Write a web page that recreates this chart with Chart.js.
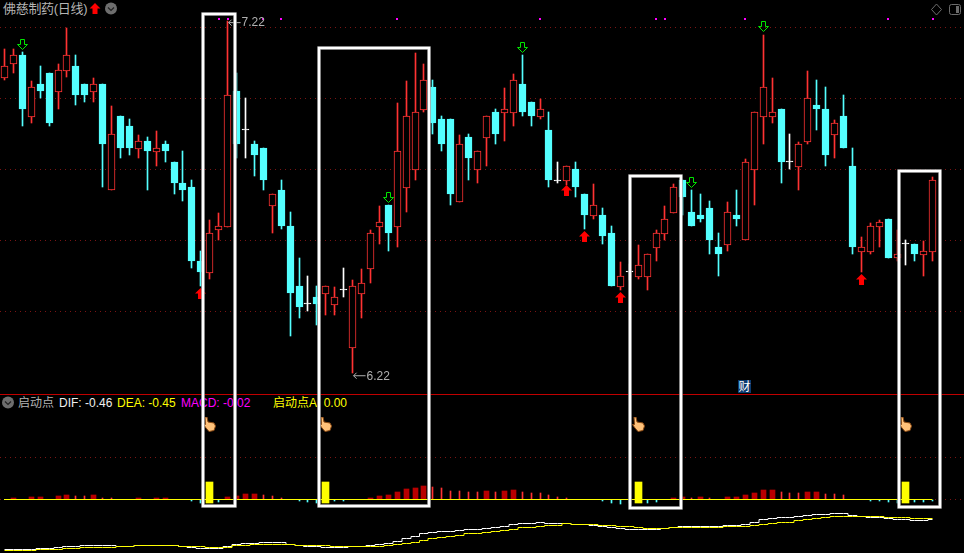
<!DOCTYPE html>
<html>
<head>
<meta charset="utf-8">
<title>佛慈制药(日线)</title>
<script src="https://cdn.jsdelivr.net/npm/chart.js@4/dist/chart.umd.js"></script>
<style>
html, body { margin: 0; padding: 0; background: #000; overflow: hidden; }
#wrap { position: relative; width: 964px; height: 553px; background: #000; }
#chart { position: absolute; left: 0; top: 0; z-index: 1; }
.lbl { position: absolute; white-space: nowrap; font: 12px "Liberation Sans", "Noto Sans CJK SC", sans-serif; line-height: 14px; }
</style>
</head>
<body>
<div id="wrap">
  <span class="lbl" style="left:3px;top:2px;color:#b4b4b4;font-size:13px;letter-spacing:-0.3px;">佛慈制药(日线)</span>
  <span class="lbl" style="left:18px;top:396px;color:#b4b4b4;">启动点</span>
  <span class="lbl" style="left:59px;top:396px;color:#f0f0f0;">DIF: -0.46</span>
  <span class="lbl" style="left:117px;top:396px;color:#ffff00;">DEA: -0.45</span>
  <span class="lbl" style="left:181px;top:396px;color:#ff00ff;">MACD: -0.02</span>
  <span class="lbl" style="left:273px;top:396px;color:#ffff00;">启动点A: 0.00</span>
  <span class="lbl" style="left:738px;top:380px;width:13px;height:13px;background:#0b3a6e;color:#fff;text-align:center;">财</span>
  <canvas id="chart" width="964" height="553"></canvas>
</div>
<script>
// daily candles
var opens = [7.059,7.099,7.123,6.949,7.041,7.073,7.020,7.079,7.093,7.041,7.020,7.041,6.740,6.951,6.922,6.858,6.880,6.849,6.871,6.820,6.760,6.749,6.539,6.506,6.628,
  6.636,7.022,6.910,6.871,6.860,6.696,6.740,6.638,6.468,6.416,6.437,6.446,6.414,6.456,6.293,6.446,6.517,6.636,6.698,6.636,6.747,6.798,6.968,7.033,6.942,
  6.942,6.707,6.891,6.798,6.889,6.962,6.960,6.960,7.041,6.990,6.949,6.911,6.766,6.767,6.800,6.729,6.667,6.669,6.618,6.466,6.507,6.494,6.494,6.577,6.616,
  6.676,6.769,6.678,6.669,6.689,6.579,6.585,6.669,6.598,6.798,6.949,6.949,6.970,6.819,6.807,6.878,6.982,6.970,6.897,6.951,6.809,6.565,6.565,6.636,6.658,
  6.546,6.587,6.587,6.557,6.565];
var closes = [7.093,7.123,6.971,7.032,7.022,6.932,7.080,7.123,7.011,7.011,7.041,6.872,6.899,6.861,6.861,6.879,6.852,6.859,6.852,6.761,6.740,6.539,6.508,6.617,6.637,
  7.009,6.872,6.910,6.841,6.769,6.728,6.638,6.448,6.408,6.416,6.417,6.467,6.436,6.456,6.467,6.475,6.617,6.649,6.618,6.850,6.950,6.961,7.052,6.931,6.872,
  6.729,6.870,6.831,6.850,6.950,6.899,6.970,7.052,6.962,6.951,6.970,6.769,6.766,6.808,6.749,6.669,6.697,6.610,6.468,6.495,6.507,6.527,6.558,6.617,6.657,
  6.748,6.721,6.638,6.658,6.598,6.559,6.677,6.658,6.819,6.961,7.032,6.961,6.820,6.819,6.870,7.001,6.970,6.840,6.930,6.860,6.579,6.578,6.637,6.649,6.547,
  6.558,6.587,6.559,6.566,6.768];
var highs = [7.141,7.140,7.131,7.050,7.093,7.073,7.098,7.200,7.123,7.041,7.058,7.041,6.978,6.951,6.942,6.896,6.890,6.908,6.880,6.820,6.851,6.769,6.567,6.654,6.675,
  7.220,7.073,7.002,6.880,6.860,6.728,6.769,6.678,6.547,6.496,6.468,6.467,6.465,6.519,6.485,6.516,6.626,6.695,6.698,6.987,7.050,7.129,7.097,7.053,6.951,
  6.942,6.897,6.899,6.850,6.950,6.970,7.030,7.070,7.124,6.990,6.999,6.962,6.820,6.808,6.820,6.729,6.757,6.689,6.638,6.536,6.530,6.584,6.558,6.626,6.695,
  6.757,6.769,6.740,6.729,6.709,6.618,6.706,6.740,6.828,6.961,7.180,7.058,6.970,6.899,6.877,7.078,7.053,7.033,6.939,7.010,6.860,6.607,6.647,6.655,6.658,
  6.627,6.598,6.587,6.596,6.777];
var lows = [7.053,7.074,6.923,6.932,7.003,6.923,6.971,7.062,6.983,6.991,6.991,6.750,6.740,6.832,6.841,6.832,6.740,6.809,6.820,6.730,6.709,6.520,6.468,6.489,6.599,
  6.636,6.832,6.832,6.781,6.740,6.619,6.630,6.326,6.377,6.397,6.357,6.385,6.385,6.437,6.220,6.377,6.476,6.587,6.567,6.579,6.678,6.769,6.963,6.899,6.851,
  6.698,6.707,6.769,6.760,6.809,6.871,6.880,6.922,6.951,6.922,6.942,6.749,6.760,6.755,6.720,6.630,6.658,6.587,6.468,6.456,6.485,6.488,6.456,6.539,6.599,
  6.676,6.669,6.638,6.650,6.559,6.496,6.567,6.638,6.598,6.698,6.871,6.932,6.760,6.800,6.740,6.871,6.911,6.809,6.831,6.860,6.559,6.508,6.559,6.579,6.547,
  6.539,6.527,6.539,6.496,6.539];

// MACD panel
var macdHist = [0,.03,0,.07,.07,0,.10,.13,.10,.10,.13,.04,.04,0,0,.04,0,.03,.03,0,0,-.03,-.10,0,-.07,
  .07,.10,.16,.16,.13,.10,.04,0,-.03,-.07,-.10,0,-.04,-.03,0,0,.04,.10,.13,.22,.31,.34,.40,.37,.34,
  .25,.25,.22,.22,.25,.22,.25,.28,.22,.19,.19,.13,.07,.04,0,0,0,-.03,-.10,-.13,-.12,0,-.10,-.07,0,
  .04,.07,.04,.07,.04,0,.07,.07,.13,.19,.28,.28,.22,.19,.19,.22,.22,.16,.16,.13,0,0,-.03,-.03,-.07,
  -.10,0,-.07,-.07,-.02];
var macdWide = [1,3,4,6,7,10,15,17,18,25,26,27,28,41,42,43,44,45,46,47,54,56,57,75,76,78,81,82,83,84,85,86,90,91];
var dif = [-.756,-.756,-.756,-.756,-.746,-.746,-.736,-.726,-.726,-.716,-.716,-.716,-.716,-.726,-.726,-.716,-.716,-.716,-.716,-.716,-.726,-.736,-.746,-.746,-.746,
  -.726,-.706,-.696,-.696,-.686,-.686,-.686,-.706,-.716,-.726,-.726,-.736,-.736,-.736,-.726,-.726,-.716,-.706,-.696,-.676,-.646,-.626,-.596,-.586,-.576,
  -.576,-.566,-.556,-.556,-.546,-.536,-.526,-.506,-.496,-.496,-.486,-.496,-.496,-.496,-.506,-.506,-.516,-.526,-.536,-.546,-.556,-.556,-.556,-.556,-.546,
  -.536,-.526,-.526,-.526,-.526,-.526,-.516,-.516,-.506,-.486,-.456,-.446,-.436,-.436,-.426,-.416,-.406,-.406,-.396,-.396,-.416,-.426,-.436,-.436,-.446,
  -.456,-.456,-.466,-.466,-.456];
var dea = [-.766,-.766,-.766,-.766,-.756,-.756,-.756,-.746,-.746,-.736,-.736,-.736,-.736,-.726,-.726,-.716,-.716,-.716,-.716,-.716,-.726,-.726,-.726,-.736,-.736,
  -.736,-.716,-.716,-.706,-.706,-.706,-.706,-.706,-.716,-.716,-.716,-.716,-.726,-.726,-.726,-.726,-.726,-.726,-.716,-.706,-.696,-.686,-.666,-.646,-.636,
  -.626,-.616,-.596,-.596,-.586,-.576,-.566,-.556,-.536,-.536,-.526,-.516,-.516,-.496,-.506,-.506,-.506,-.516,-.516,-.526,-.526,-.536,-.546,-.546,-.546,
  -.536,-.536,-.536,-.536,-.536,-.536,-.526,-.526,-.526,-.516,-.506,-.496,-.486,-.486,-.466,-.456,-.446,-.436,-.426,-.426,-.426,-.426,-.426,-.426,-.436,
  -.436,-.436,-.446,-.446,-.446];

// signal positions, as candle index
var startPoints = [23,36,71,101];
var startBarRange = [-.11,.52];
var handLevel = 2.25;
var downArrows = {idx:[2,43,58,77,85], price:[7.153,6.718,7.145,6.762,7.204]};
var upArrows = {idx:[22,63,65,69,96], price:[6.446,6.739,6.608,6.435,6.486]};
var topDots = [24,25,29,31,44,60,73,74,83,99,104];
var topDotPrice = 7.226;

// axis gridlines
var priceTicks = [7.202,7.0,6.799,6.597,6.395];
var histTicks = [1.254,0];

// white highlight frames: candle index span and price span
var frameFrom = [22.22,35.27,70.1,100.25];
var frameTo = [25.84,47.55,75.77,104.85];
var frameTop = [7.240,7.144,6.780,6.794];
var frameBottom = [5.843,5.843,5.837,5.840];

var RED = '#ff3232', CYAN = '#54ffff', WHITE = '#ffffff';
var count = opens.length;
var labels = [];
for (var n = 0; n < count + 3; n++) labels.push(n < count ? String(n + 1) : '');

function sparse(idx, vals) {
  var out = [];
  for (var i = 0; i < count; i++) out.push(null);
  idx.forEach(function (k, j) { out[k] = Array.isArray(vals) && vals.length === idx.length ? vals[j] : vals; });
  return out;
}
function candleColor(i) {
  return closes[i] > opens[i] ? RED : closes[i] < opens[i] ? CYAN : WHITE;
}
var colors = opens.map(function (v, i) { return candleColor(i); });
var bodyFill = colors.map(function (c) { return c === RED ? '#000000' : c; });
var bodies = opens.map(function (o, i) { return [Math.min(o, closes[i]), Math.max(o, closes[i])]; });
var wicks = lows.map(function (l, i) { return [l, highs[i]]; });

var wideBars = macdHist.map(function (v, i) { return macdWide.indexOf(i) >= 0 ? v : null; });
var thinBars = macdHist.map(function (v, i) { return v > 0 && macdWide.indexOf(i) < 0 ? v : null; });
var negBars = macdHist.map(function (v) { return v < 0 ? v : null; });

function sprite(w, h, draw) {
  var c = document.createElement('canvas');
  c.width = w; c.height = h;
  draw(c.getContext('2d'));
  return c;
}
function upPath(g) {
  g.beginPath();
  g.moveTo(5.5, 0); g.lineTo(11, 5.5); g.lineTo(8, 5.5); g.lineTo(8, 11);
  g.lineTo(3, 11); g.lineTo(3, 5.5); g.lineTo(0, 5.5); g.closePath();
}
var upSprite = sprite(11, 11, function (g) { upPath(g); g.fillStyle = '#ff0000'; g.fill(); });
var downSprite = sprite(11, 11, function (g) {
  g.beginPath();
  g.moveTo(3.5, .5); g.lineTo(7.5, .5); g.lineTo(7.5, 5.5); g.lineTo(10.5, 5.5);
  g.lineTo(5.5, 10.5); g.lineTo(.5, 5.5); g.lineTo(3.5, 5.5); g.closePath();
  g.strokeStyle = '#00e600'; g.lineWidth = 1; g.stroke();
});
var dotSprite = sprite(2, 2, function (g) { g.fillStyle = '#ff00ff'; g.fillRect(0, 0, 2, 2); });
var handSprite = sprite(13, 15, function (g) {
  g.beginPath();
  g.moveTo(2, 0); g.lineTo(4, 0); g.lineTo(5, 5); g.lineTo(11, 6); g.lineTo(12.5, 9);
  g.lineTo(11, 13.5); g.lineTo(6, 14.5); g.lineTo(3, 11); g.lineTo(.5, 7.5); g.lineTo(2.5, 7.5);
  g.closePath();
  g.fillStyle = '#ffc27a'; g.fill();
  g.strokeStyle = '#8a4a14'; g.lineWidth = 1; g.stroke();
});

// keep the bars and lines on whole pixels like the terminal does
var snapPlugin = {
  id: 'snap',
  afterDatasetsUpdate: function (chart) {
    chart.data.datasets.forEach(function (ds, d) {
      chart.getDatasetMeta(d).data.forEach(function (el) {
        if (ds.snapWhole) { el.x = Math.round(el.x); el.y = Math.round(el.y); return; }
        el.x = Math.floor(el.x) + .5;
        if (ds.type === 'line') { el.y = Math.floor(el.y) + .5; return; }
        el.y = Math.round(el.y);
        el.base = Math.round(el.base);
        if (el.y === el.base) el.base = el.y + 1;
      });
    });
  }
};

function button(ctx, x, y) {
  ctx.fillStyle = '#6e6e6e';
  ctx.beginPath(); ctx.arc(x, y, 6, 0, Math.PI * 2); ctx.fill();
  ctx.strokeStyle = '#222'; ctx.lineWidth = 1.2;
  ctx.beginPath(); ctx.moveTo(x - 3, y - 1); ctx.lineTo(x, y + 2); ctx.lineTo(x + 3, y - 1); ctx.stroke();
}
function extremeLabel(ctx, xs, yp, i, price, dy) {
  var px = xs.getPixelForValue(i), py = yp.getPixelForValue(price) + dy;
  ctx.strokeStyle = '#b0b0b0'; ctx.lineWidth = 1;
  ctx.beginPath();
  ctx.moveTo(px + 13, py + .5); ctx.lineTo(px + 1, py + .5);
  ctx.moveTo(px + 4, py - 2.5); ctx.lineTo(px + 1, py + .5); ctx.lineTo(px + 4, py + 3.5);
  ctx.stroke();
  ctx.fillStyle = '#b0b0b0';
  ctx.font = '12px "Liberation Sans", sans-serif';
  ctx.textBaseline = 'middle';
  ctx.fillText(price.toFixed(2), px + 14, py + 1);
}

var overlayPlugin = {
  id: 'overlay',
  afterDatasetsDraw: function (chart) {
    var ctx = chart.ctx, xs = chart.scales.x, yp = chart.scales.y, yh = chart.scales.yHist;
    ctx.save();

    // panel divider and the MACD zero line
    ctx.fillStyle = '#c00000';
    ctx.fillRect(0, 394, 964, 1);
    ctx.fillStyle = '#ffff00';
    ctx.fillRect(Math.floor(xs.getPixelForValue(0)), Math.floor(yh.getPixelForValue(0)), xs.getPixelForValue(count - 1) - xs.getPixelForValue(0), 1);

    extremeLabel(ctx, xs, yp, 25, 7.22, 1);
    extremeLabel(ctx, xs, yp, 39, 6.22, 2);

    // header icons
    ctx.save(); ctx.translate(89.5, 3); upPath(ctx); ctx.fillStyle = '#ff0000'; ctx.fill(); ctx.restore();
    button(ctx, 111, 8.5);
    button(ctx, 8, 402.5);
    ctx.strokeStyle = '#6c6c6c'; ctx.lineWidth = 1;
    ctx.beginPath(); ctx.moveTo(936.5, 4); ctx.lineTo(941.5, 9.5); ctx.lineTo(936.5, 15); ctx.lineTo(931.5, 9.5); ctx.closePath(); ctx.stroke();
    ctx.beginPath(); ctx.roundRect(949.5, 4.5, 11, 10, 2); ctx.stroke();
    ctx.fillStyle = '#6c6c6c'; ctx.fillRect(956, 6, 3, 7);

    // highlight frames
    frameFrom.forEach(function (f, i) {
      var l = Math.round(xs.getPixelForValue(f)), r = Math.round(xs.getPixelForValue(frameTo[i]));
      var t = Math.round(yp.getPixelForValue(frameTop[i])), b = Math.round(yp.getPixelForValue(frameBottom[i]));
      ctx.strokeStyle = '#8c8c8c'; ctx.lineWidth = 3.5;
      ctx.strokeRect(l, t, r - l, b - t);
      ctx.strokeStyle = '#ffffff'; ctx.lineWidth = 2.4;
      ctx.strokeRect(l, t, r - l, b - t);
    });
    ctx.restore();
  }
};

var ctx = document.getElementById('chart').getContext('2d');
new Chart(ctx, {
  type: 'bar',
  plugins: [snapPlugin, overlayPlugin],
  data: {
    labels: labels,
    datasets: [
      { type: 'line', data: sparse(topDots, topDotPrice), showLine: false, pointStyle: dotSprite, pointRadius: 2, snapWhole: true, yAxisID: 'y', order: 1 },
      { type: 'line', data: sparse(downArrows.idx, downArrows.price), showLine: false, pointStyle: downSprite, pointRadius: 5, yAxisID: 'y', order: 1 },
      { type: 'line', data: sparse(upArrows.idx, upArrows.price), showLine: false, pointStyle: upSprite, pointRadius: 5, yAxisID: 'y', order: 1 },
      { type: 'line', data: sparse(startPoints, handLevel), showLine: false, pointStyle: handSprite, pointRadius: 5, yAxisID: 'yHist', order: 1 },
      { type: 'bar', data: bodies, backgroundColor: bodyFill, borderColor: colors, borderWidth: 1, borderSkipped: false, barThickness: 7, minBarLength: 1, grouped: false, yAxisID: 'y', order: 2 },
      { type: 'bar', data: wicks, backgroundColor: colors, barThickness: 1, grouped: false, yAxisID: 'y', order: 3 },
      { type: 'bar', data: sparse(startPoints, [startBarRange, startBarRange, startBarRange, startBarRange]), backgroundColor: '#ffff00', barThickness: 7, grouped: false, yAxisID: 'yHist', order: 2 },
      { type: 'bar', data: wideBars, backgroundColor: '#b80000', barThickness: 5, grouped: false, yAxisID: 'yHist', order: 3 },
      { type: 'bar', data: thinBars, backgroundColor: RED, barThickness: 1, grouped: false, yAxisID: 'yHist', order: 3 },
      { type: 'bar', data: negBars, backgroundColor: CYAN, barThickness: 1, grouped: false, yAxisID: 'yHist', order: 3 },
      { type: 'line', data: dif, borderColor: '#ffffff', borderWidth: 1, pointRadius: 0, stepped: 'middle', yAxisID: 'yLine', order: 1 },
      { type: 'line', data: dea, borderColor: '#ffff00', borderWidth: 1, pointRadius: 0, stepped: 'middle', yAxisID: 'yLine', order: 0 }
    ]
  },
  options: {
    responsive: false,
    devicePixelRatio: 1,
    animation: false,
    layout: { padding: 0, autoPadding: false },
    plugins: { legend: { display: false }, title: { display: false }, tooltip: { enabled: false } },
    scales: {
      x: { display: false, offset: true },
      y: {
        position: 'left', min: 5.7095, max: 7.28,
        afterBuildTicks: function (s) { s.ticks = priceTicks.map(function (v) { return { value: v }; }); },
        ticks: { display: false },
        border: { display: false, dash: [1, 4] },
        grid: { color: '#7a1414', drawTicks: false }
      },
      yHist: {
        position: 'left', min: -1.611, max: 14.979,
        afterBuildTicks: function (s) { s.ticks = histTicks.map(function (v) { return { value: v }; }); },
        ticks: { display: false },
        border: { display: false, dash: [1, 4] },
        grid: { color: '#7a1414', drawTicks: false }
      },
      yLine: { display: false, min: -0.793, max: 4.737 }
    }
  }
});
</script>
</body>
</html>
